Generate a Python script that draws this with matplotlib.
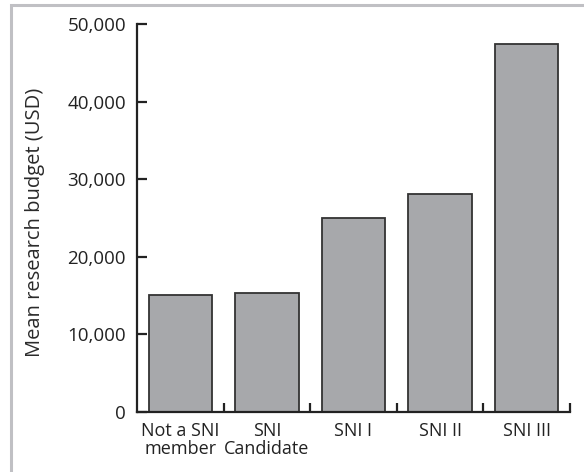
import matplotlib
matplotlib.use("Agg")
import matplotlib.pyplot as plt
from matplotlib.patches import Rectangle
from matplotlib.ticker import FuncFormatter

categories = ["Not a SNI\nmember", "SNI\nCandidate", "SNI I", "SNI II", "SNI III"]
values = [15100, 15300, 25000, 28100, 47400]
yticks = [0, 10000, 20000, 30000, 40000, 50000]

plt.rcParams['font.family'] = ['Open Sans', 'DejaVu Sans']

fig = plt.figure(figsize=(5.84, 4.72), dpi=100)
fig.patch.set_facecolor('white')
# outer gray frame
fig.patches.append(Rectangle((11/584, -0.1), 1.2, 1 - 5/472 + 0.1, transform=fig.transFigure,
                             fill=False, edgecolor='#c0c0c4', linewidth=2.2, zorder=0))

ax = fig.add_axes([137/584, 1 - 412/472, (570 - 137)/584, (412 - 24)/472])
x = list(range(len(categories)))
ax.bar(x, values, width=0.73, color='#a7a8ab', edgecolor='#333333', linewidth=1.3, zorder=2)

ax.set_xlim(-0.5, len(categories) - 0.5)
ax.set_ylim(0, 50000)
for s in ['top', 'right']:
    ax.spines[s].set_visible(False)
for s in ['left', 'bottom']:
    ax.spines[s].set_linewidth(1.6)
    ax.spines[s].set_color('#222222')
    ax.spines[s].set_zorder(3)

ax.set_yticks(yticks)
ax.yaxis.set_major_formatter(FuncFormatter(lambda v, p: f"{int(v):,}"))
ax.tick_params(axis='y', direction='in', length=7, width=1.6, color='#222222',
               labelsize=13.5, labelcolor='#222222', pad=8)

ax.set_xticks([i + 0.5 for i in x])
ax.set_xticklabels([])
ax.tick_params(axis='x', which='major', direction='in', length=6.5, width=1.6, color='#222222')
ax.set_xticks(x, minor=True)
ax.set_xticklabels(categories, minor=True, fontsize=13, color='#222222', linespacing=0.95)
ax.tick_params(axis='x', which='minor', length=0, pad=7.5)

ax.set_ylabel("Mean research budget (USD)", fontsize=14.5, color='#2a2a2a')
ax.yaxis.set_label_coords(-92/433, 0.49)

fig.savefig("out.png", dpi=100)
